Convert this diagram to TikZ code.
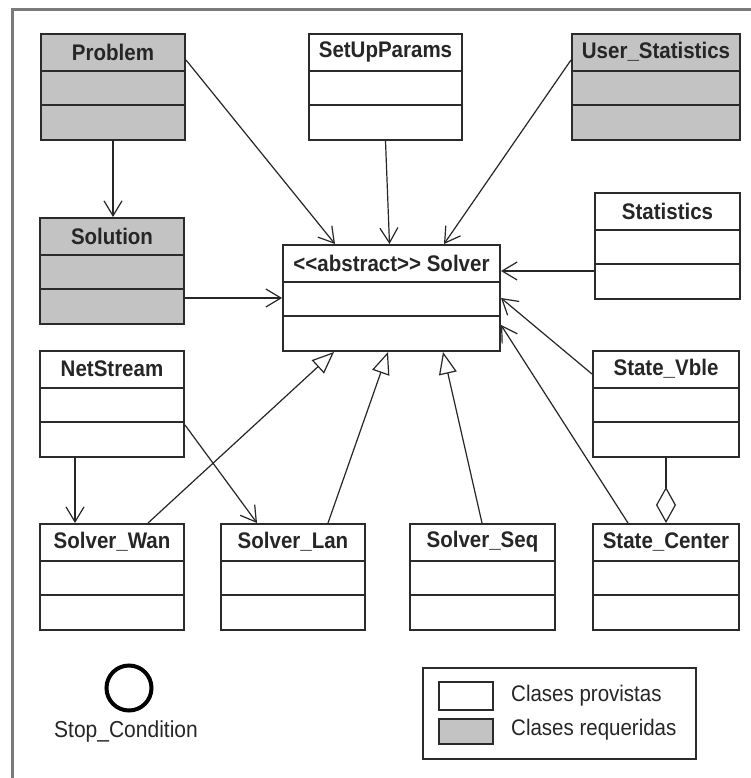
\documentclass[tikz,border=0pt]{standalone}
\usepackage{fontspec}
\usepackage{graphicx}
\setmainfont{Liberation Sans}
\usetikzlibrary{arrows.meta,calc}

\definecolor{framegray}{HTML}{7A7A7A}
\definecolor{boxline}{HTML}{2B2B2B}
\definecolor{reqfill}{HTML}{C3C3C3}
\definecolor{inkdark}{HTML}{262626}

\tikzset{
  classbox/.style={draw=boxline, line width=2pt, rectangle, minimum height=106pt,
    inner sep=0pt, anchor=north west},
  divider/.style={draw=boxline, line width=2pt},
  classlabel/.style={font=\bfseries\fontsize{20.5}{24}\selectfont, text=inkdark, inner sep=0pt},
  assoc/.style={draw=inkdark, line width=1.2pt, -{Straight Barb[length=15pt,width=18pt,line width=1.2pt]}},
  generalize/.style={draw=inkdark, line width=1.2pt, -{Triangle[open,length=22pt,width=18pt,line width=1.2pt,fill=white]}},
  aggregate/.style={draw=inkdark, line width=1.2pt, {Diamond[open,length=36pt,width=20pt,line width=1.2pt,fill=white]}-},
  legendtext/.style={font=\fontsize{20.5}{24}\selectfont, text=inkdark, anchor=west, inner sep=0pt},
}

% slightly tall lettering used throughout
\newcommand\tallword[1]{\scalebox{1}[1.1]{#1}}

% class box with header, attribute and operation compartments
% #1 name, #2 x, #3 y (top left), #4 width, #5 fill, #6 class name
\newcommand\umlclass[6]{%
  \node[classbox, fill=#5, minimum width=#4pt] (#1) at (#2,#3) {};
  \draw[divider] ([yshift=-38pt]#1.north west) -- ([yshift=-38pt]#1.north east);
  \draw[divider] ([yshift=-72pt]#1.north west) -- ([yshift=-72pt]#1.north east);
  \node[classlabel] (#1-name) at ([yshift=-19pt]#1.north) {\tallword{#6}};
}

\begin{document}
\begin{tikzpicture}[x=1pt, y=-1pt]
  \useasboundingbox (0,0) rectangle (750,778);
  \fill[white] (0,0) rectangle (750,778);

  % diagram frame
  \draw[framegray, line width=3pt] (12,790) -- (12,10) -- (760,10);

  % classes
  \umlclass{problem}{40}{33}{144}{reqfill}{Problem}
  \umlclass{setup}{308}{33}{153}{white}{SetUpParams}
  \umlclass{userstat}{571}{33}{168}{reqfill}{User\_Statistics}
  \umlclass{solution}{39}{217}{144}{reqfill}{Solution}
  \umlclass{solver}{282}{244}{217}{white}{<{}<abstract>{}> Solver}
  \umlclass{statistics}{594}{192}{145}{white}{Statistics}
  \umlclass{netstream}{39}{350}{144}{white}{NetStream}
  \umlclass{statevble}{592}{350}{146}{white}{State\_Vble}
  \umlclass{wan}{39}{523}{144}{white}{Solver\_Wan}
  \umlclass{lan}{220}{523}{144}{white}{Solver\_Lan}
  \umlclass{seq}{409}{523}{145}{white}{Solver\_Seq}
  \umlclass{center}{592}{523}{146}{white}{State\_Center}

  % associations
  \draw[assoc] (problem.south) -- (problem.south |- solution.north);
  \draw[assoc] ([yshift=-27pt]problem.north east) -- ([xshift=53pt]solver.north west);
  \draw[assoc] (setup.south) -- ([xshift=-2pt]solver.north);
  \draw[assoc] ([yshift=-27pt]userstat.north west) -- ([xshift=162pt]solver.north west);
  \draw[assoc] ([yshift=-79pt]statistics.north west) coordinate (statpt) -- (solver.east |- statpt);
  \draw[assoc] ([yshift=-24pt]statevble.north west) -- (solver.east);
  \draw[assoc] ([xshift=36pt]center.north west) -- ([yshift=-81pt]solver.north east);
  \draw[assoc] (solution.east |- solver.west) -- (solver.west);
  \draw[assoc] ([xshift=36pt]netstream.south west) -- ([xshift=36pt]wan.north west);
  \draw[assoc] ([yshift=-75pt]netstream.north east) -- ([xshift=37pt]lan.north west);

  % inheritance
  \draw[generalize] ([xshift=109pt]wan.north west) -- ([xshift=52pt]solver.south west);
  \draw[generalize] ([xshift=108pt]lan.north west) -- ([xshift=106pt]solver.south west);
  \draw[generalize] ([xshift=73pt]seq.north west) -- ([xshift=161pt]solver.south west);

  % aggregation
  \draw[aggregate] (center.north) -- (statevble.south);

  % stop condition
  \node[circle, draw=black, line width=4pt, minimum size=45pt, inner sep=0pt] (stop) at (129,688) {};
  \node[font=\fontsize{21}{24}\selectfont, text=inkdark, inner sep=0pt] (stoplabel) at (126,732) {\tallword{Stop\_Condition}};

  % legend
  \node[draw=boxline, line width=2pt, minimum width=273pt, minimum height=91pt, anchor=north west, inner sep=0pt] (legend) at (422,667) {};
  \node[draw=boxline, line width=2pt, fill=white, minimum width=54pt, minimum height=28pt, anchor=north west, inner sep=0pt] (provided) at (438,681) {};
  \node[draw=boxline, line width=2pt, fill=reqfill, minimum width=54pt, minimum height=25pt, anchor=north west, inner sep=0pt] (required) at (438,718) {};
  \node[legendtext] (providedtext) at (511,696) {\tallword{Clases provistas}};
  \node[legendtext] (requiredtext) at (511,730) {\tallword{Clases requeridas}};
\end{tikzpicture}
\end{document}
